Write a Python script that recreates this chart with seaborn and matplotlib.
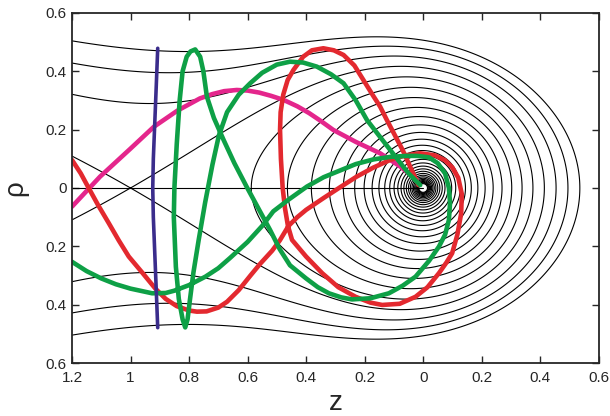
import numpy as np
import pandas as pd
import matplotlib
matplotlib.use("Agg")
import matplotlib.pyplot as plt
import seaborn as sns

sns.set_style("ticks")
plt.rcParams['font.family'] = ['Liberation Sans', 'DejaVu Sans']

# potential V(z, rho) = -1/r + F*z + K*rho^2 (saddle at z = -1)
field_F = 1.0
trap_K = 2.5
levels = [-67.6, -59.05, -51.57, -45.04, -39.33, -34.35, -30.0, -26.2, -22.89,
          -19.99, -17.46, -15.25, -13.32, -11.63, -10.16, -8.87, -7.75, -6.77,
          -5.91, -5.16, -4.51, -3.94, -3.44, -3.0, -2.62, -2.29, -2.0,
          -1.747, -1.526, -1.332]

# trajectories (z, rho)
purple_z = [-0.907, -0.912, -0.918, -0.922, -0.924, -0.922, -0.918, -0.912, -0.907]
purple_rho = [0.479, 0.35, 0.2, 0.1, 0.0, -0.1, -0.2, -0.35, -0.479]

magenta_z = [-1.2, -1.104, -1.0, -0.92, -0.84, -0.763, -0.72, -0.68, -0.637,
             -0.60, -0.56, -0.52, -0.477, -0.43, -0.39, -0.35, -0.307, -0.23,
             -0.147, -0.08, -0.022]
magenta_rho = [-0.064, 0.039, 0.135, 0.21, 0.265, 0.307, 0.322, 0.332, 0.336,
               0.334, 0.327, 0.316, 0.302, 0.28, 0.257, 0.23, 0.199, 0.158,
               0.119, 0.075, 0.027]

red_z = [-1.2, -1.17, -1.143, -1.11, -1.074, -1.04, -1.006, -0.96, -0.915,
         -0.88, -0.842, -0.80, -0.773, -0.74, -0.70, -0.67, -0.63, -0.59,
         -0.557, -0.516, -0.49, -0.46, -0.43, -0.40, -0.341, -0.28, -0.227,
         -0.17, -0.113, -0.06, -0.01, 0.04, 0.075, 0.10, 0.12, 0.132, 0.13,
         0.117, 0.099, 0.08, 0.054, 0.015, -0.026, -0.08, -0.14, -0.18, -0.231,
         -0.29, -0.345, -0.40, -0.448, -0.462, -0.472, -0.48, -0.486, -0.489,
         -0.487, -0.478, -0.463, -0.443, -0.41, -0.38, -0.341, -0.305, -0.272,
         -0.235, -0.204, -0.17, -0.147, -0.124, -0.07, -0.016]
red_rho = [0.096, 0.05, 0.0, -0.06, -0.121, -0.18, -0.235, -0.29, -0.345,
           -0.38, -0.405, -0.42, -0.424, -0.423, -0.41, -0.39, -0.35, -0.30,
           -0.26, -0.215, -0.18, -0.13, -0.10, -0.075, -0.035, 0.005, 0.039,
           0.07, 0.096, 0.112, 0.119, 0.112, 0.095, 0.07, 0.035, -0.02, -0.087,
           -0.16, -0.224, -0.255, -0.292, -0.34, -0.373, -0.397, -0.401, -0.393,
           -0.373, -0.34, -0.292, -0.235, -0.178, -0.13, -0.07, 0.0, 0.1, 0.199,
           0.26, 0.32, 0.37, 0.405, 0.45, 0.472, 0.479, 0.472, 0.456,
           0.42, 0.37, 0.315, 0.279, 0.233, 0.13, 0.01]

green_z = [-1.2, -1.15, -1.1, -1.05, -1.0, -0.926, -0.88, -0.85, -0.80, -0.744,
           -0.70, -0.66, -0.60, -0.55, -0.512, -0.46, -0.397, -0.34, -0.284,
           -0.23, -0.17, -0.11, -0.056, -0.02, 0.02, 0.05, 0.075, 0.088, 0.092,
           0.088, 0.075, 0.054, 0.02, -0.026, -0.07, -0.117, -0.18, -0.243,
           -0.28, -0.322, -0.36, -0.40, -0.455, -0.49, -0.523, -0.563, -0.603,
           -0.645, -0.682, -0.715, -0.739, -0.751, -0.762, -0.779, -0.795,
           -0.808, -0.822, -0.832, -0.842, -0.85, -0.852, -0.845, -0.835,
           -0.822, -0.813, -0.805, -0.797, -0.785, -0.767, -0.745, -0.72,
           -0.698, -0.67, -0.63, -0.591, -0.55, -0.50, -0.455, -0.41, -0.363,
           -0.315, -0.272, -0.23, -0.192, -0.12, -0.05, -0.01]
green_rho = [-0.253, -0.285, -0.31, -0.33, -0.345, -0.361, -0.36, -0.352, -0.333,
             -0.304, -0.275, -0.24, -0.185, -0.13, -0.08, -0.04, 0.005, 0.037,
             0.06, 0.082, 0.098, 0.107, 0.11, 0.11, 0.105, 0.085, 0.05, 0.0,
             -0.05, -0.11, -0.16, -0.201, -0.25, -0.304, -0.335, -0.361, -0.378,
             -0.382, -0.375, -0.361, -0.34, -0.31, -0.265, -0.21, -0.144, -0.07,
             0.004, 0.085, 0.165, 0.24, 0.313, 0.40, 0.45, 0.475, 0.468,
             0.45, 0.40, 0.30, 0.15, 0.0, -0.1, -0.27, -0.38,
             -0.45, -0.478, -0.45, -0.384, -0.29, -0.178, -0.05, 0.08,
             0.18, 0.26, 0.32, 0.359, 0.395, 0.423, 0.433, 0.43, 0.416,
             0.39, 0.359, 0.30, 0.233, 0.14, 0.05, 0.01]

xticks = [-1.2, -1.0, -0.8, -0.6, -0.4, -0.2, 0.0, 0.2, 0.4, 0.6]
xtick_labels = ["1.2", "1", "0.8", "0.6", "0.4", "0.2", "0", "0.2", "0.4", "0.6"]
yticks = [-0.6, -0.4, -0.2, 0.0, 0.2, 0.4, 0.6]
ytick_labels = ["0.6", "0.4", "0.2", "0", "0.2", "0.4", "0.6"]

fig = plt.figure(figsize=(6.1, 4.16), dpi=100)
ax = fig.add_axes([0.118, 0.1274, 0.8635, 0.8414])

zz, rr = np.meshgrid(np.linspace(-1.2, 0.6, 1800), np.linspace(-0.6, 0.6, 1200))
dist = np.maximum(np.sqrt(zz**2 + rr**2), 1e-4)
V = -1.0 / dist + field_F * zz + trap_K * rr**2
ax.contour(zz, rr, V, levels=levels, colors='black', linewidths=0.8,
           linestyles='solid')

ax.plot([-1.2, 0.0], [0.0, 0.0], color='black', lw=0.8)

lw = 3.3
line_kw = dict(sort=False, estimator=None, errorbar=None, ax=ax)
sns.lineplot(x=magenta_z, y=magenta_rho, color='#e4268c', lw=lw, **line_kw)
sns.lineplot(x=red_z, y=red_rho, color='#e3292f', lw=lw, **line_kw)
sns.lineplot(x=green_z, y=green_rho, color='#0ea046', lw=lw, **line_kw)
sns.lineplot(x=purple_z, y=purple_rho, color='#3b2d8c', lw=2.6, **line_kw)

ax.set_xlim(-1.2, 0.6)
ax.set_ylim(-0.6, 0.6)
ax.set_xticks(xticks)
ax.set_xticklabels(xtick_labels)
ax.set_yticks(yticks)
ax.set_yticklabels(ytick_labels)
ax.tick_params(direction='in', top=True, right=True, length=5, width=1,
               labelsize=11, pad=6)
ax.tick_params(axis='y', pad=4)
for sp in ax.spines.values():
    sp.set_visible(True)
    sp.set_linewidth(1.3)

ax.set_xlabel('z', fontsize=20, labelpad=3)
ax.set_ylabel('ρ', fontsize=20, labelpad=12)

fig.savefig('out.png', dpi=100)
